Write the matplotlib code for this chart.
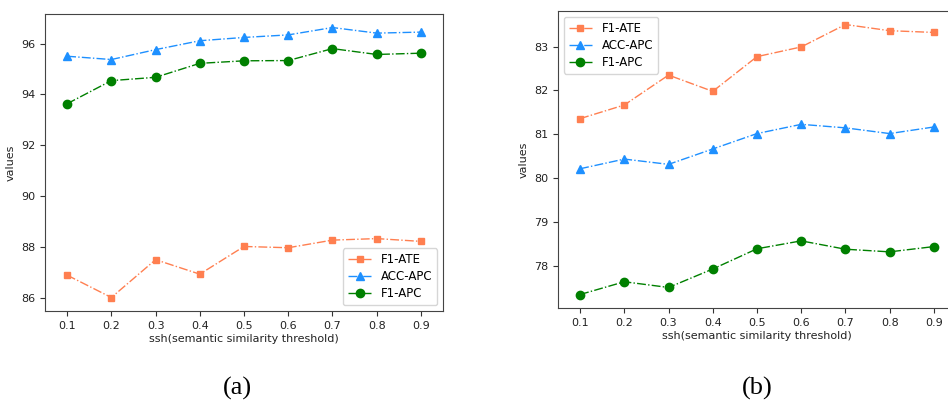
import matplotlib
matplotlib.use("Agg")
import matplotlib.pyplot as plt

ssh = [0.1, 0.2, 0.3, 0.4, 0.5, 0.6, 0.7, 0.8, 0.9]
xtick_labels = ["0.1", "0.2", "0.3", "0.4", "0.5", "0.6", "0.7", "0.8", "0.9"]
series_names = ["F1-ATE", "ACC-APC", "F1-APC"]

# panel (a)
a_f1_ate = [86.88, 86.00, 87.49, 86.92, 88.01, 87.96, 88.26, 88.32, 88.21]
a_acc_apc = [95.50, 95.37, 95.76, 96.11, 96.24, 96.34, 96.63, 96.41, 96.45]
a_f1_apc = [93.63, 94.54, 94.67, 95.22, 95.32, 95.33, 95.80, 95.57, 95.62]

# panel (b)
b_f1_ate = [81.36, 81.67, 82.35, 81.98, 82.77, 82.99, 83.50, 83.36, 83.32]
b_acc_apc = [80.22, 80.44, 80.32, 80.67, 81.02, 81.23, 81.15, 81.02, 81.17]
b_f1_apc = [77.36, 77.65, 77.52, 77.94, 78.40, 78.58, 78.39, 78.33, 78.45]

colors = ["#FF7F50", "#1E90FF", "#008000"]
markers = ["s", "^", "o"]
msizes = [4.5, 6, 6]

fig = plt.figure(figsize=(9.48, 4.01), dpi=100)
axa = fig.add_axes([0.0475, 0.2244, 0.4198, 0.7406])
axb = fig.add_axes([0.5886, 0.2319, 0.4198, 0.7406])

for ax, data, loc in [(axa, [a_f1_ate, a_acc_apc, a_f1_apc], "lower right"),
                      (axb, [b_f1_ate, b_acc_apc, b_f1_apc], "upper left")]:
    for vals, name, c, m, ms in zip(data, series_names, colors, markers, msizes):
        ax.plot(ssh, vals, linestyle="-.", color=c, marker=m, markersize=ms,
                linewidth=1.0, label=name)
    ax.set_xlim(0.05, 0.95)
    ax.set_xticks(ssh)
    ax.set_xticklabels(xtick_labels)
    ax.tick_params(labelsize=8, color="#333333", labelcolor="#222222", length=3.5)
    ax.set_xlabel("ssh(semantic similarity threshold)", fontsize=8, color="#222222", labelpad=2)
    ax.set_ylabel("values", fontsize=8, color="#222222")
    for s in ax.spines.values():
        s.set_color("#444444")
    ax.legend(loc=loc, fontsize=8.5, frameon=True, edgecolor="#cccccc",
              handlelength=2.0, labelspacing=0.35, borderpad=0.4)

axb.spines["right"].set_visible(False)
axb.set_yticks([78, 79, 80, 81, 82, 83])
axa.set_yticks([86, 88, 90, 92, 94, 96])

fig.text(237 / 948, 1 - 388 / 401, "(a)", fontsize=19, family="Liberation Serif",
         ha="center", va="center")
fig.text(757 / 948, 1 - 388 / 401, "(b)", fontsize=19, family="Liberation Serif",
         ha="center", va="center")

fig.savefig("out.png", dpi=100)
